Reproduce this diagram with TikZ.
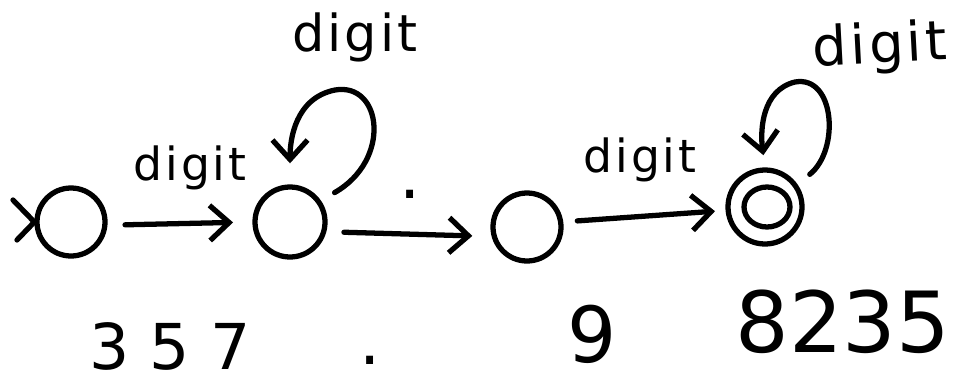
\documentclass[tikz,border=0pt]{standalone}
\usepackage{fontspec}
\setmainfont{DejaVu Sans}
\usetikzlibrary{arrows.meta,shapes.geometric}
\newfontfamily\hand[LetterSpace=6]{DejaVu Sans}
\tikzset{
  state/.style={draw, circle, line width=3pt, minimum size=68*0.02cm, inner sep=0pt},
  edge/.style={line width=3pt, line cap=round, line join=round,
    -{Straight Barb[length=11pt,width=20pt,line width=3pt]}},
  lbl/.style={font=\hand\fontsize{26}{30}\selectfont, inner sep=0pt},
  bigtxt/.style={font=\fontsize{38}{44}\selectfont, inner sep=0pt},
}
\begin{document}
\begin{tikzpicture}[x=0.02cm,y=-0.02cm]
\useasboundingbox (0,0) rectangle (966,385);
% states
\node[state] (q0) at (71,222) {};
\node[state, minimum size=70*0.02cm] (q1) at (290,222) {};
\node[state] (q2) at (527,227) {};
\node[state, minimum size=74*0.02cm] (q3) at (765,207) {};
\node[draw, ellipse, line width=3pt, minimum width=46*0.02cm, minimum height=40*0.02cm, inner sep=0pt] (q3in) at (767,207) {};
% start mark
\coordinate (s1) at (13,200);
\coordinate (s2) at (17,240);
\draw[line width=3pt, line cap=round, line join=round] (s1) -- (q0.west) -- (s2);
% transitions
\draw[edge, shorten <=10pt, shorten >=11pt] (q0.-5) -- (q1.180);
\draw[edge, shorten <=10pt, shorten >=11pt] (q1.-15) -- (q2.195);
\draw[edge, shorten <=8pt, shorten >=6pt] (q2.8) -- (q3.185);
% self loops
\draw[edge, shorten <=9pt, shorten >=12pt] (q1.35) .. controls (392,160) and (382,82) .. (335,90) .. controls (295,98) and (290,140) .. (q1.north);
\draw[edge, shorten <=9pt, shorten >=7pt] (q3.35) .. controls (840,150) and (835,75) .. (795,82) .. controls (762,90) and (760,130) .. (q3.north);
% labels
\node[lbl] (l1) at (190,168) {digit};
\node[lbl, font=\hand\fontsize{29}{34}\selectfont] (l2) at (355,37) {digit};
\node[lbl] (l3) at (640,160) {digit};
\node[lbl, font=\hand\fontsize{31}{36}\selectfont, rotate=3] (l4) at (880,48) {digit};
\node[bigtxt] (dot) at (410,194) {.};
% bottom text
\node[bigtxt, font=\fontsize{36}{42}\selectfont] (t1) at (170,346) {3 5 7};
\node[bigtxt] (t2) at (370,360) {.};
\node[bigtxt, font=\fontsize{44}{50}\selectfont] (t3) at (592,334) {9};
\node[bigtxt, font=\fontsize{48}{54}\selectfont] (t4) at (843,322) {8235};
\end{tikzpicture}
\end{document}
